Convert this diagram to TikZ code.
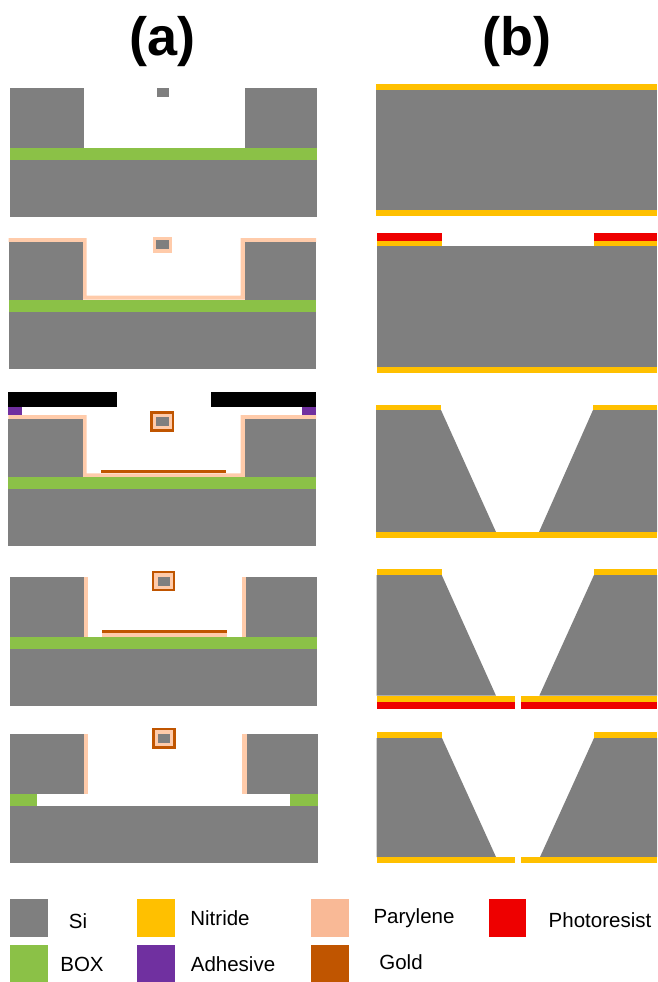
\documentclass[tikz,border=0pt]{standalone}
\usepackage{fontspec}
\setmainfont{Liberation Sans}
\definecolor{sigray}{HTML}{7F7F7F}
\definecolor{boxgreen}{HTML}{8BC147}
\definecolor{nitride}{HTML}{FFC000}
\definecolor{parylene}{HTML}{FFCBAA}
\definecolor{parylegend}{HTML}{F9B996}
\definecolor{resist}{HTML}{EE0000}
\definecolor{adhesive}{HTML}{7030A0}
\definecolor{gold}{HTML}{C05500}
\tikzset{
  si/.style={fill=sigray},
  box/.style={fill=boxgreen},
  nit/.style={fill=nitride},
  par/.style={fill=parylene},
  pr/.style={fill=resist},
  adh/.style={fill=adhesive},
  au/.style={fill=gold},
  mask/.style={fill=black},
  heading/.style={font=\bfseries\fontsize{54}{60}\selectfont,inner sep=0pt},
  legendtext/.style={font=\fontsize{20.5}{24}\selectfont,inner sep=0pt},
}
\begin{document}
\begin{tikzpicture}[x=1pt,y=-1pt]
  \useasboundingbox (0,0) rectangle (657,982);
  \node[heading] (heada) at (162.5,42) {(a)};
  \node[heading] (headb) at (517,42) {(b)};
  % column (a), step 1
  \fill[si] (9.5,88) rectangle (84,148);
  \fill[si] (245,88) rectangle (317,148);
  \fill[box] (9.5,148) rectangle (317,160);
  \fill[si] (9.5,160) rectangle (317,216.5);
  \fill[si] (157,88) rectangle (169,97);
  % column (a), step 2
  \fill[par] (8.5,238) -- (86.7,238) -- (86.7,295.7) -- (240.7,295.7) -- (240.7,238)
    -- (316,238) -- (316,242) -- (245,242) -- (245,299.7) -- (82.7,299.7)
    -- (82.7,242) -- (8.5,242) -- cycle;
  \fill[si] (8.5,242) rectangle (82.7,299.7);
  \fill[si] (245,242) rectangle (316,299.7);
  \fill[box] (8.5,299.7) rectangle (316,312);
  \fill[si] (8.5,312) rectangle (316,368.5);
  \fill[par] (153.3,236.7) rectangle (171.7,252.7);
  \fill[si] (156,240) rectangle (168.7,249);
  % column (a), step 3
  \fill[mask] (8.3,391.7) rectangle (116.7,406.7);
  \fill[mask] (210.7,391.7) rectangle (316,406.7);
  \fill[adh] (8.3,406.7) rectangle (22,415);
  \fill[adh] (302.3,406.7) rectangle (316,415);
  \fill[par] (8.3,415) -- (86.7,415) -- (86.7,473.3) -- (240.7,473.3) -- (240.7,415)
    -- (316,415) -- (316,419.3) -- (245,419.3) -- (245,477) -- (82.7,477)
    -- (82.7,419.3) -- (8.3,419.3) -- cycle;
  \fill[si] (8.3,419.3) rectangle (82.7,477);
  \fill[si] (245,419.3) rectangle (316,477);
  \fill[box] (8.3,477) rectangle (316,489.3);
  \fill[si] (8.3,489.3) rectangle (316,546);
  \fill[au] (101,469.7) rectangle (225.7,473.3);
  \fill[au] (150.3,411) rectangle (174,431.7);
  \fill[par] (152.8,413.5) rectangle (171.5,429.2);
  \fill[si] (156.3,417.3) rectangle (168.7,426.3);
  % column (a), step 4
  \fill[si] (9.7,577) rectangle (83.7,637);
  \fill[si] (246,577) rectangle (317.3,637);
  \fill[par] (83.7,577) rectangle (88,637);
  \fill[par] (242,577) rectangle (246,637);
  \fill[par] (102,633.3) rectangle (226.7,637);
  \fill[au] (102,629.7) rectangle (226.7,633.3);
  \fill[box] (9.7,637) rectangle (317.3,649.3);
  \fill[si] (9.7,649.3) rectangle (317.3,706);
  \fill[au] (151.7,570.7) rectangle (175,591.3);
  \fill[par] (154.2,573.2) rectangle (172.5,588.8);
  \fill[si] (157.7,577) rectangle (170,586.3);
  % column (a), step 5
  \fill[si] (10.3,734) rectangle (84.3,794);
  \fill[si] (246.7,734) rectangle (317.7,794);
  \fill[par] (84.3,734) rectangle (88.3,794);
  \fill[par] (242.3,734) rectangle (246.7,794);
  \fill[box] (10.3,794) rectangle (37.3,806.3);
  \fill[box] (290.3,794) rectangle (317.7,806.3);
  \fill[si] (10.3,806.3) rectangle (317.7,863);
  \fill[au] (152,727.7) rectangle (175.7,748.7);
  \fill[par] (154.5,730.2) rectangle (173.2,746.2);
  \fill[si] (157.7,734) rectangle (170.3,743.3);
  % column (b), step 1
  \fill[nit] (376,84) rectangle (657,90);
  \fill[si] (376,90) rectangle (657,210);
  \fill[nit] (376,210) rectangle (657,216);
  % column (b), step 2
  \fill[pr] (377,233) rectangle (442,241);
  \fill[pr] (594,233) rectangle (657,241);
  \fill[nit] (377,241) rectangle (442,246);
  \fill[nit] (594,241) rectangle (657,246);
  \fill[si] (377,246) rectangle (657,367);
  \fill[nit] (377,367) rectangle (657,373);
  % column (b), step 3
  \fill[nit] (376,405) rectangle (441,410);
  \fill[nit] (593,405) rectangle (657,410);
  \fill[si] (376,410) -- (441,410) -- (496,532) -- (376,532) -- cycle;
  \fill[si] (593,410) -- (657,410) -- (657,532) -- (539,532) -- cycle;
  \fill[nit] (376,532) rectangle (657,537.5);
  % column (b), step 4
  \fill[nit] (376.7,569.3) rectangle (441.7,575);
  \fill[nit] (594,569.3) rectangle (657,575);
  \fill[si] (376.7,575) -- (441.7,575) -- (496,695.7) -- (376.7,695.7) -- cycle;
  \fill[si] (594,575) -- (657,575) -- (657,695.7) -- (539.3,695.7) -- cycle;
  \fill[nit] (376.7,695.7) rectangle (514.7,701.7);
  \fill[nit] (521,695.7) rectangle (657,701.7);
  \fill[pr] (376.7,701.7) rectangle (514.7,709.3);
  \fill[pr] (521,701.7) rectangle (657,709.3);
  % column (b), step 5
  \fill[nit] (376.7,732) rectangle (442,738);
  \fill[nit] (594,732) rectangle (657,738);
  \fill[si] (376.7,738) -- (442,738) -- (496,857) -- (376.7,857) -- cycle;
  \fill[si] (594,738) -- (657,738) -- (657,857) -- (540,857) -- cycle;
  \fill[nit] (376.7,857) rectangle (514.7,863);
  \fill[nit] (521,857) rectangle (657,863);
  % legend
  \fill[si] (10,899) rectangle (48,937);
  \fill[box] (10,945) rectangle (48,982);
  \fill[nit] (137,899) rectangle (175,937);
  \fill[adh] (137,945) rectangle (175,982);
  \fill[parylegend] (311,899) rectangle (349,937);
  \fill[au] (311,945) rectangle (349,982);
  \fill[pr] (489,899) rectangle (526,937);
  \node[legendtext] (legsi) at (78,921) {Si};
  \node[legendtext] (legbox) at (82,964) {BOX};
  \node[legendtext] (legnit) at (220,918) {Nitride};
  \node[legendtext] (legadh) at (233,964) {Adhesive};
  \node[legendtext] (legpar) at (414,918) {Parylene};
  \node[legendtext] (leggold) at (401,962) {Gold};
  \node[legendtext] (legpr) at (600,920) {Photoresist};
\end{tikzpicture}
\end{document}
